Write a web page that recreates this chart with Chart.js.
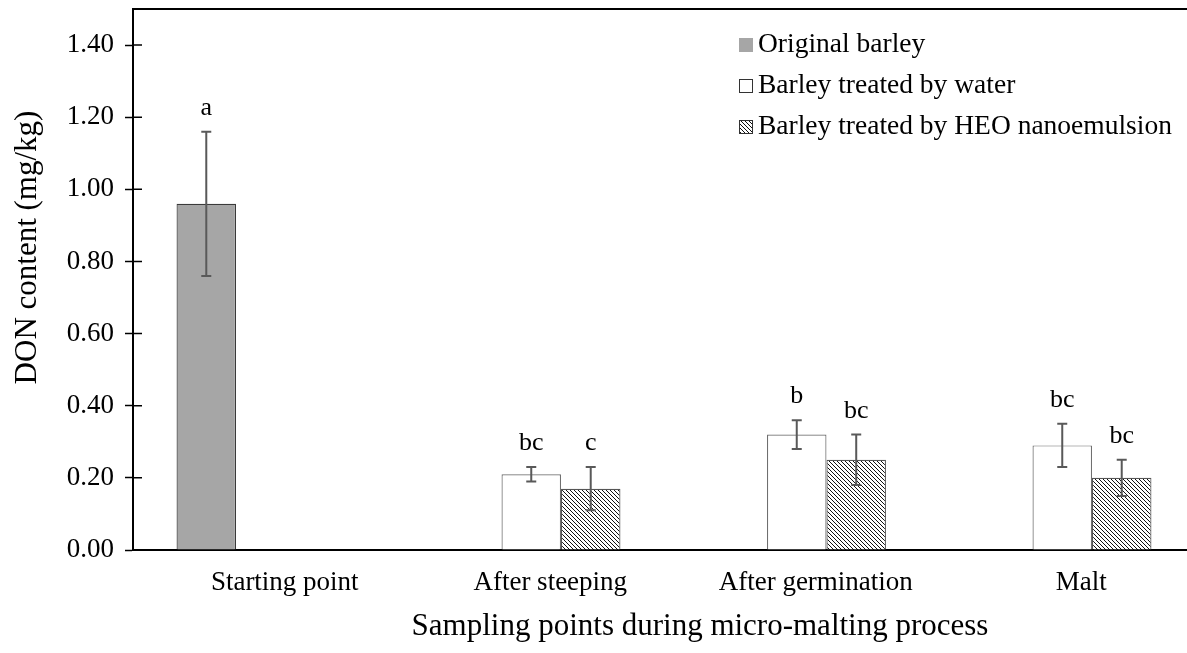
<!DOCTYPE html>
<html>
<head>
<meta charset="utf-8">
<script src="https://cdn.jsdelivr.net/npm/chart.js@4.4.1/dist/chart.umd.min.js"></script>
<style>
  html, body { margin: 0; padding: 0; background: #fff; overflow: hidden; }
  #chart { display: block; }
</style>
</head>
<body>
<canvas id="chart" width="1200" height="653"></canvas>
<script>
const categories = ["Starting point", "After steeping", "After germination", "Malt"];
const seriesNames = ["Original barley", "Barley treated by water", "Barley treated by HEO nanoemulsion"];
const xTitle = "Sampling points during micro-malting process";
const yTitle = "DON content (mg/kg)";

// DON content (mg/kg) and standard deviations
const originalBarley = [0.96, null, null, null];
const originalErr = [0.20, null, null, null];
const waterTreated = [null, 0.21, 0.32, 0.29];
const waterErr = [null, 0.02, 0.04, 0.06];
const heoTreated = [null, 0.17, 0.25, 0.20];
const heoErr = [null, 0.06, 0.07, 0.05];

// significance letters above the error bars
const originalLetters = ["a", "", "", ""];
const waterLetters = ["", "bc", "b", "bc"];
const heoLetters = ["", "c", "bc", "bc"];

const yTicks = [0, 0.2, 0.4, 0.6, 0.8, 1.0, 1.2, 1.4];

const serif = "'Liberation Serif', 'Times New Roman', serif";
const ctx = document.getElementById("chart").getContext("2d");

function makeHatch() {
  const tile = document.createElement("canvas");
  tile.width = 4;
  tile.height = 4;
  const g = tile.getContext("2d");
  g.fillStyle = "#fff";
  g.fillRect(0, 0, 4, 4);
  g.strokeStyle = "#111";
  g.lineWidth = 1;
  g.beginPath();
  g.moveTo(-1, -1); g.lineTo(5, 5);
  g.moveTo(-1, 3); g.lineTo(1, 5);
  g.moveTo(3, -1); g.lineTo(5, 1);
  g.stroke();
  return ctx.createPattern(tile, "repeat");
}
const hatch = makeHatch();

// error bars + letters
const errorBars = {
  id: "errorBars",
  afterDatasetsDraw(chart) {
    const c = chart.ctx;
    const y = chart.scales.y;
    chart.data.datasets.forEach((ds, di) => {
      const meta = chart.getDatasetMeta(di);
      meta.data.forEach((bar, i) => {
        const v = ds.data[i];
        if (v == null) return;
        const e = ds.errors[i];
        const top = y.getPixelForValue(v + e);
        const bot = y.getPixelForValue(v - e);
        c.save();
        c.strokeStyle = "#595959";
        c.lineWidth = 2;
        c.beginPath();
        c.moveTo(bar.x, top); c.lineTo(bar.x, bot);
        c.moveTo(bar.x - 5, top); c.lineTo(bar.x + 5, top);
        c.moveTo(bar.x - 5, bot); c.lineTo(bar.x + 5, bot);
        c.stroke();
        c.fillStyle = "#000";
        c.font = "26px " + serif;
        c.textAlign = "center";
        c.textBaseline = "alphabetic";
        c.fillText(ds.letters[i], bar.x, top - 17);
        c.restore();
      });
    });
  },
};

// top frame line, inner half of the y tick marks, axis titles
const frame = {
  id: "frame",
  afterDraw(chart) {
    const c = chart.ctx;
    const area = chart.chartArea;
    const y = chart.scales.y;
    c.save();
    c.strokeStyle = "#000";
    c.lineWidth = 2;
    c.beginPath();
    c.moveTo(area.left, area.top);
    c.lineTo(area.right, area.top);
    c.stroke();
    c.lineWidth = 1.5;
    c.beginPath();
    y.ticks.forEach((t) => {
      const py = y.getPixelForValue(t.value);
      c.moveTo(area.left, py);
      c.lineTo(area.left + 9, py);
    });
    c.stroke();
    c.fillStyle = "#000";
    c.font = "31px " + serif;
    c.textAlign = "center";
    c.textBaseline = "middle";
    c.fillText(xTitle, (area.left + area.right) / 2 + 36, chart.height - 26);
    c.translate(28, (area.top + area.bottom) / 2 - 32);
    c.rotate(-Math.PI / 2);
    c.fillText(yTitle, 0, 0);
    c.restore();
  },
};

const legendBox = {
  id: "legendBox",
  afterDraw(chart) {
    const c = chart.ctx;
    const area = chart.chartArea;
    const x0 = area.left + 606;
    const size = 14;
    c.save();
    c.font = "27.5px " + serif;
    c.textAlign = "left";
    c.textBaseline = "middle";
    chart.data.datasets.forEach((ds, i) => {
      const cy = area.top + 36 + i * 41;
      c.fillStyle = ds.backgroundColor;
      c.fillRect(x0, cy - size / 2, size, size);
      if (i > 0) {
        c.strokeStyle = "#333";
        c.lineWidth = 1;
        c.strokeRect(x0 + 0.5, cy - size / 2 + 0.5, size - 1, size - 1);
      }
      c.fillStyle = "#000";
      c.fillText(ds.label, x0 + size + 5, cy);
    });
    c.restore();
  },
};

const data = {
  labels: categories,
  datasets: [
    {
      label: seriesNames[0],
      data: originalBarley,
      errors: originalErr,
      letters: originalLetters,
      backgroundColor: "#a6a6a6",
      borderColor: "#3a3a3a",
      borderWidth: 1.2,
    },
    {
      label: seriesNames[1],
      data: waterTreated,
      errors: waterErr,
      letters: waterLetters,
      backgroundColor: "#ffffff",
      borderColor: "#6e6e6e",
      borderWidth: 1.2,
    },
    {
      label: seriesNames[2],
      data: heoTreated,
      errors: heoErr,
      letters: heoLetters,
      backgroundColor: hatch,
      borderColor: "#555555",
      borderWidth: 1.2,
    },
  ],
};

const config = {
  type: "bar",
  data: data,
  options: {
    responsive: false,
    animation: false,
    devicePixelRatio: 1,
    categoryPercentage: 0.672,
    barPercentage: 1.0,
    layout: { padding: { left: 0, top: 9, right: 5, bottom: 0 } },
    plugins: {
      legend: { display: false },
      tooltip: { enabled: false },
    },
    scales: {
      x: {
        type: "category",
        offset: true,
        grid: { display: false, drawTicks: false },
        border: { display: true, color: "#000", width: 2 },
        ticks: {
          font: { family: serif, size: 27 },
          color: "#000",
          padding: 17,
          labelOffset: 19,
          maxRotation: 0,
          autoSkip: false,
        },
        afterFit(s) {
          s.height = 103;
          s.paddingLeft = 0;
          s.paddingRight = 0;
        },
      },
      y: {
        min: 0,
        max: 1.5,
        afterBuildTicks(s) { s.ticks = yTicks.map((v) => ({ value: v })); },
        grid: {
          display: true,
          drawOnChartArea: false,
          tickLength: 8,
          tickColor: "#000",
          tickWidth: 1.5,
        },
        border: { color: "#000", width: 2 },
        ticks: {
          font: { family: serif, size: 27 },
          color: "#000",
          padding: 11,
          callback: (v) => Number(v).toFixed(2),
        },
        afterFit(s) {
          s.width = 133;
          s.paddingTop = 0;
          s.paddingBottom = 0;
        },
      },
    },
  },
  plugins: [errorBars, frame, legendBox],
};

const myChart = new Chart(ctx, config);
</script>
</body>
</html>
